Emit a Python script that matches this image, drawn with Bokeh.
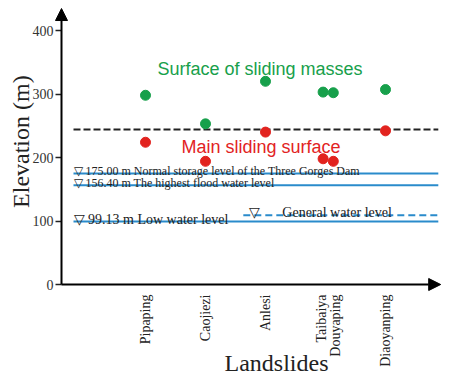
import math
from bokeh.plotting import figure
from bokeh.models import (Range1d, FixedTicker, Arrow, NormalHead, Label, ColumnDataSource)
from bokeh.embed import file_html
from bokeh.resources import INLINE

# ---- data ----
landslides = ["Pipaping", "Caojiezi", "Anlesi", "Taibaiya", "Douyaping", "Diaoyanping"]
x_pos = [1, 2, 3, 3.96, 4.13, 5]
label_pos = [1, 2, 3, 3.94, 4.16, 5]
surface_elev = [298, 253, 320, 303, 302, 307]
sliding_elev = [224, 194, 240, 198, 194, 242]
mean_line = 244
normal_storage = 175.00
highest_flood = 156.40
low_water = 99.13
general_water = 109
y_ticks = [0, 100, 200, 300, 400]

SERIF = "Liberation Serif"
SANS = "Liberation Sans"
GREEN = "#17a04b"
RED = "#e2231f"
BLUE = "#2a8bcb"
INK = "#222222"

# whole canvas is the frame; axes are drawn at fixed locations inside it
W, H = 446, 380
X0 = -1.4167
X1 = X0 + W / 60.0
Y0 = -(H - 284) / 0.635
Y1 = 284 / 0.635
AX_X = -0.4      # where the vertical axis sits
AX_Y = 0         # where the horizontal axis sits

p = figure(width=W, height=H, output_backend="svg", toolbar_location=None,
           x_range=Range1d(X0, X1), y_range=Range1d(Y0, Y1),
           min_border_left=0, min_border_right=0, min_border_top=0, min_border_bottom=0)
p.outline_line_color = None
p.grid.grid_line_color = None
p.background_fill_color = "white"
p.border_fill_color = "white"

# axes
xa = p.xaxis[0]
xa.fixed_location = AX_Y
xa.ticker = FixedTicker(ticks=label_pos)
xa.major_label_overrides = {lp: n for lp, n in zip(label_pos, landslides)}
xa.major_label_orientation = math.pi / 2
xa.axis_line_color = None
xa.major_tick_line_color = None
xa.minor_tick_line_color = None
xa.major_label_text_font = SERIF
xa.major_label_text_font_size = "14px"
xa.major_label_text_color = INK
xa.major_label_standoff = 4

ya = p.yaxis[0]
ya.fixed_location = AX_X
ya.ticker = FixedTicker(ticks=y_ticks)
ya.axis_line_color = None
ya.major_tick_out = 6
ya.major_tick_in = 0
ya.major_tick_line_color = INK
ya.major_tick_line_width = 1.5
ya.minor_tick_line_color = None
ya.major_label_text_font = SERIF
ya.major_label_text_font_size = "14px"
ya.major_label_text_color = "#333333"
ya.major_label_standoff = 2

# arrow axes
p.add_layout(Arrow(end=NormalHead(size=12, fill_color="black", line_color="black"),
                   x_start=AX_X, y_start=AX_Y, x_end=AX_X, y_end=434.6,
                   line_width=2, line_color="black"))
p.add_layout(Arrow(end=NormalHead(size=12, fill_color="black", line_color="black"),
                   x_start=AX_X, y_start=AX_Y, x_end=5.92, y_end=AX_Y,
                   line_width=2, line_color="black"))

# water levels
xl0, xl1 = -0.2, 5.88
for lvl in [normal_storage, highest_flood, low_water]:
    p.line([xl0, xl1], [lvl, lvl], line_color=BLUE, line_width=2)
p.line([2.63, xl1], [general_water, general_water], line_color=BLUE, line_width=2,
       line_dash="7 4")

# mean dashed line
p.line([xl0, xl1], [mean_line, mean_line], line_color=INK, line_width=2,
       line_dash="7 3")

# points
src = ColumnDataSource(dict(x=x_pos, s=surface_elev, m=sliding_elev))
p.scatter("x", "s", source=src, size=10, color=GREEN)
p.scatter("x", "m", source=src, size=10, color=RED)

# texts
def txt(x, y, t, font, size, color, baseline="alphabetic", angle=0, align="left"):
    p.add_layout(Label(x=x, y=y, text=t, text_font=font, text_font_size=size,
                       text_color=color, text_baseline=baseline,
                       angle=angle, text_align=align))

txt(1.2, 340, "Surface of sliding masses", SANS, "18px", GREEN, baseline="middle")
txt(1.6, 216, "Main sliding surface", SANS, "18px", RED, baseline="middle")
txt(-0.2, normal_storage + 3.2, "\u25bd 175.00 m Normal storage level of the Three Gorges Dam",
    SERIF, "12px", INK)
txt(-0.2, highest_flood + 3.2, "\u25bd 156.40 m The highest flood water level",
    SERIF, "12px", INK)
txt(-0.2, low_water + 3.6, "\u25bd 99.13 m Low water level", SERIF, "14px", INK)
txt(2.73, general_water + 3.6, "\u25bd", SERIF, "14px", INK)
txt(3.28, general_water + 3.6, "General water level", SERIF, "14px", INK)

# axis titles
txt(-1.083, 225, "Elevation (m)", SERIF, "24px", INK, baseline="middle",
    angle=math.pi / 2, align="center")
txt(3.183, -124.4, "Landslides", SERIF, "24px", INK, baseline="middle", align="center")

open("out.html", "w").write(file_html(p, INLINE))
